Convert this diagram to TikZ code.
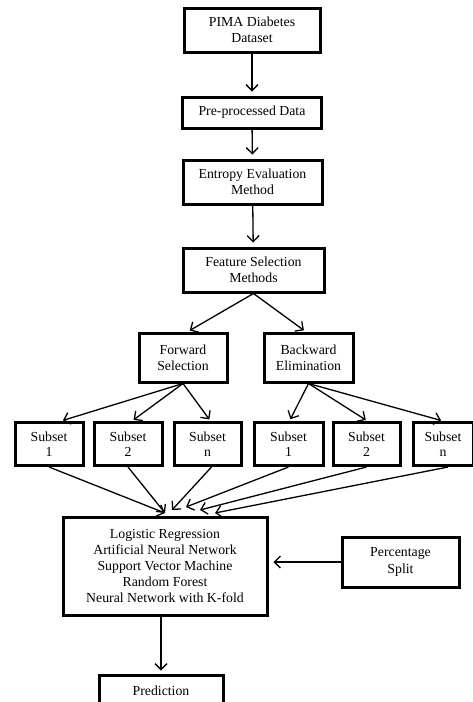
\documentclass[tikz,border=0pt]{standalone}
\usepackage{fontspec}
\setmainfont{Liberation Serif}
\usetikzlibrary{arrows.meta}

\tikzset{
    boite/.style={draw, line width=3pt, align=center, inner sep=0pt,
        font=\fontsize{13.8}{16.2}\selectfont},
    sousens/.style={boite, minimum width=68pt, minimum height=43pt,
        font=\fontsize{13.8}{15.5}\selectfont},
    fleche/.style={line width=1.3pt, shorten >=4pt,
        -{Straight Barb[length=6pt,width=12pt,line width=1.3pt]}},
}

\begin{document}
\begin{tikzpicture}[x=1pt,y=-1pt]
    \useasboundingbox (0,0) rectangle (473,702);

    % Chaine principale
    \node[boite, minimum width=136pt, minimum height=44pt] (pima) at (252,30) {PIMA Diabetes\\Dataset};
    \node[boite, minimum width=139pt, minimum height=31pt] (prep) at (252,112.5) {Pre-processed Data};
    \node[boite, minimum width=139pt, minimum height=44pt] (entropie) at (252.5,182) {Entropy Evaluation\\Method};
    \node[boite, minimum width=141pt, minimum height=44pt] (fsm) at (253.5,270) {Feature Selection\\Methods};

    \draw[fleche] (pima) -- (prep);
    \draw[fleche] (prep) -- (entropie);
    \draw[fleche] (entropie) -- (fsm);

    % Deux methodes de selection
    \node[boite, minimum width=88pt, minimum height=49pt] (fwd) at (183,357.5) {Forward\\Selection};
    \node[boite, minimum width=89pt, minimum height=49pt] (bwd) at (308.5,357.5) {Backward\\Elimination};

    \draw[fleche, shorten >=2pt] (fsm.south) -- ([xshift=5pt]fwd.north);
    \draw[fleche, shorten >=2pt] (fsm.south) -- ([xshift=-3pt]bwd.north);

    % Sous-ensembles
    \node[sousens] (f1) at (49,444) {Subset\\1};
    \node[sousens] (f2) at (128,444) {Subset\\2};
    \node[sousens, minimum width=67pt] (fn) at (207.5,444) {Subset\\n};
    \node[sousens, minimum width=69pt] (b1) at (288.5,444) {Subset\\1};
    \node[sousens, minimum width=67pt] (b2) at (366.5,444) {Subset\\2};
    \node[sousens, minimum width=60pt] (bn) at (443,444) {Subset\\n};

    \foreach \s/\d in {f1/12, f2/4, fn/3} {
        \draw[fleche, shorten >=2pt] (fwd.south) -- ([xshift=\d pt]\s.north);
    }
    \foreach \s/\d in {b1/1, b2/1, bn/0} {
        \draw[fleche, shorten >=2pt] (bwd.south) -- ([xshift=\d pt]\s.north);
    }

    % Algorithmes
    \node[boite, minimum width=204pt, minimum height=98pt] (alg) at (165,566)
        {Logistic Regression\\Artificial Neural Network\\Support Vector Machine\\Random Forest\\Neural Network with K-fold};
    \node[boite, minimum width=117pt, minimum height=50pt] (pct) at (400.5,562) {Percentage\\Split};

    % Points d'arrivee des fleches
    \coordinate (a1) at (165,513);
    \coordinate (a2) at (172,510);
    \coordinate (a3) at (186,507);
    \coordinate (a4) at (200,510);
    \coordinate (a5) at (215,513);

    \draw[fleche, shorten >=0pt] (f1.south) -- (a1);
    \draw[fleche, shorten >=0pt] (f2.south) -- (a1);
    \draw[fleche, shorten >=0pt] ([xshift=4pt]fn.south) -- (a2);
    \draw[fleche, shorten >=0pt] (b1.south) -- (a3);
    \draw[fleche, shorten >=0pt] (b2.south) -- (a4);
    \draw[fleche, shorten >=0pt] ([xshift=5pt]bn.south) -- (a5);

    \draw[fleche, shorten >=5pt] (pct.west) -- (alg.east |- pct.west);

    % Prediction
    \node[boite, minimum width=124pt, minimum height=31pt] (pred) at (161,690.5) {Prediction};
    \draw[fleche, shorten >=3pt] (pred.north |- alg.south) -- (pred.north);
\end{tikzpicture}
\end{document}
